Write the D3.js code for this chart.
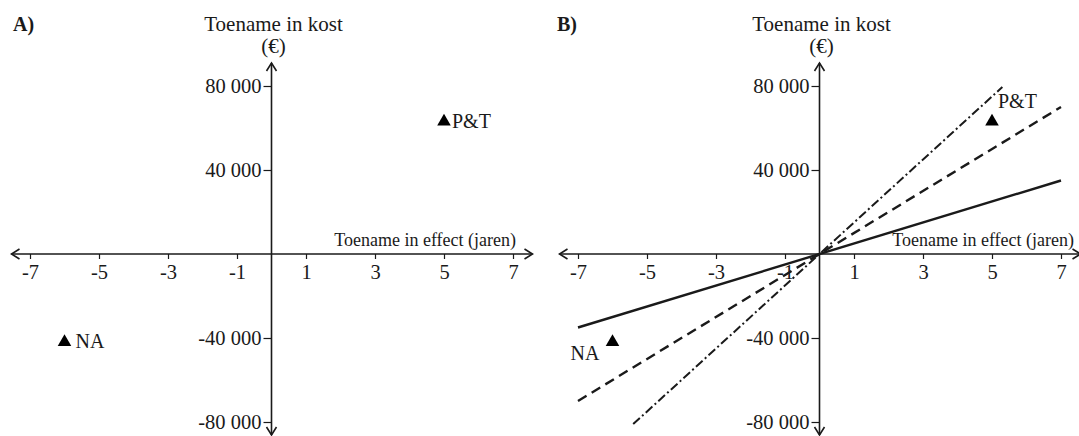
<!DOCTYPE html>
<html>
<head>
<meta charset="utf-8">
<script src="https://cdn.jsdelivr.net/npm/d3@7"></script>
<style>
  html, body { margin: 0; padding: 0; background: #fff; }
  svg { display: block; font-family: "Liberation Serif", "Times New Roman", serif; }
</style>
</head>
<body>
<svg id="chart" width="1079" height="436"></svg>
<script>
// ---- data ----
const panelLabels = ["A)", "B)"];
const yTitleLines = ["Toename in kost", "(€)"];
const xTitle = "Toename in effect (jaren)";
const xTicks = [-7, -5, -3, -1, 1, 3, 5, 7];
const yTicks = [80000, 40000, -40000, -80000];
const pointNames = ["P&T", "NA"];
const pointX = [5, -6];
const pointY = [63000, -42000];
// panel B threshold lines (effect, cost at both ends)
const lineNames = ["solid", "dashed", "dashdot"];
const lineX0 = [-7, -7, -5.4];
const lineX1 = [7, 7, 5.3];
const lineY0 = [-35000, -70000, -81000];
const lineY1 = [35000, 70000, 79500];

// ---- layout ----
const svg = d3.select("#chart");
const ink = "#1a1a1a";
const fmt = d3.formatLocale({decimal: ".", thousands: " ", grouping: [3], currency: ["", ""], minus: "-"}).format(",");

const panels = [
  {cx: 271.5, xLabelEnd: 516, letterX: 13},
  {cx: 819.5, xLabelEnd: 1074, letterX: 557}
];

function arrow(g, x, y, dir) {
  const L = 8, W = 5;
  let d;
  if (dir === "up") d = `M${x - W},${y + L}L${x},${y}L${x + W},${y + L}`;
  if (dir === "down") d = `M${x - W},${y - L}L${x},${y}L${x + W},${y - L}`;
  if (dir === "left") d = `M${x + L},${y - W}L${x},${y}L${x + L},${y + W}`;
  if (dir === "right") d = `M${x - L},${y - W}L${x},${y}L${x - L},${y + W}`;
  g.append("path").attr("d", d).attr("fill", "none").attr("stroke", ink).attr("stroke-width", 1.6);
}

panels.forEach((p, i) => {
  const g = svg.append("g");
  const x = d3.scaleLinear().domain([-7, 7]).range([p.cx - 241.5, p.cx + 241.5]);
  const y = d3.scaleLinear().domain([-80000, 80000]).range([422, 86]);
  const x0 = x(0), y0 = y(0);

  // panel letter
  g.append("text").attr("x", p.letterX).attr("y", 31)
    .attr("font-size", 20).attr("font-weight", "bold").attr("fill", ink)
    .text(panelLabels[i]);

  // y title
  yTitleLines.forEach((t, k) => {
    g.append("text").attr("x", x0 + 2).attr("y", 31 + k * 22)
      .attr("text-anchor", "middle").attr("font-size", 21).attr("fill", ink).text(t);
  });

  // axes lines
  const xl = x0 - 260, xr = x0 + 261;
  g.append("line").attr("x1", xl).attr("x2", xr).attr("y1", y0).attr("y2", y0)
    .attr("stroke", ink).attr("stroke-width", 1.6);
  arrow(g, xl, y0, "left");
  arrow(g, xr, y0, "right");
  const yt = 63, yb = 435;
  g.append("line").attr("x1", x0).attr("x2", x0).attr("y1", yt).attr("y2", yb)
    .attr("stroke", ink).attr("stroke-width", 1.6);
  arrow(g, x0, yt, "up");
  arrow(g, x0, yb, "down");

  // x ticks
  const xa = g.append("g").attr("transform", `translate(0,${y0})`)
    .call(d3.axisBottom(x).tickValues(xTicks).tickSize(5).tickPadding(5).tickFormat(d => String(d)));
  xa.select(".domain").remove();
  xa.selectAll("line").attr("stroke", ink).attr("stroke-width", 1.2);
  xa.selectAll("text").attr("font-size", 20.5).attr("font-family", "Liberation Serif").attr("fill", ink);

  // y ticks
  const ya = g.append("g").attr("transform", `translate(${x0},0)`)
    .call(d3.axisLeft(y).tickValues(yTicks).tickSize(8).tickPadding(2).tickFormat(fmt));
  ya.select(".domain").remove();
  ya.selectAll("line").attr("stroke", ink).attr("stroke-width", 1.2);
  ya.selectAll("text").attr("font-size", 20.5).attr("font-family", "Liberation Serif").attr("fill", ink);

  // x title
  g.append("text").attr("x", p.xLabelEnd).attr("y", y0 - 8)
    .attr("text-anchor", "end").attr("font-size", 18).attr("fill", ink).text(xTitle);

  // lines (panel B)
  if (i === 1) {
    const dashes = ["none", "10,6", "9,3,2,3"];
    const widths = [2.4, 2.4, 2];
    lineNames.forEach((n, k) => {
      g.append("line")
        .attr("x1", x(lineX0[k])).attr("y1", y(lineY0[k]))
        .attr("x2", x(lineX1[k])).attr("y2", y(lineY1[k]))
        .attr("stroke", ink).attr("stroke-width", widths[k])
        .attr("stroke-dasharray", dashes[k]);
    });
  }

  // points
  const tri = d3.symbol().type(d3.symbolTriangle).size(80);
  pointNames.forEach((n, k) => {
    const px = x(pointX[k]), py = y(pointY[k]);
    g.append("path").attr("d", tri()).attr("transform", `translate(${px},${py})`).attr("fill", "#000");
    let tx, ty, anchor = "start";
    if (i === 0) { tx = px + (k === 0 ? 8 : 11); ty = py + 6; }
    else if (k === 0) { tx = px + 6; ty = py - 14; }
    else { tx = px - 13; ty = py + 18; anchor = "end"; }
    g.append("text").attr("x", tx).attr("y", ty).attr("text-anchor", anchor)
      .attr("font-size", 20).attr("fill", ink).text(n);
  });
});
</script>
</body>
</html>
